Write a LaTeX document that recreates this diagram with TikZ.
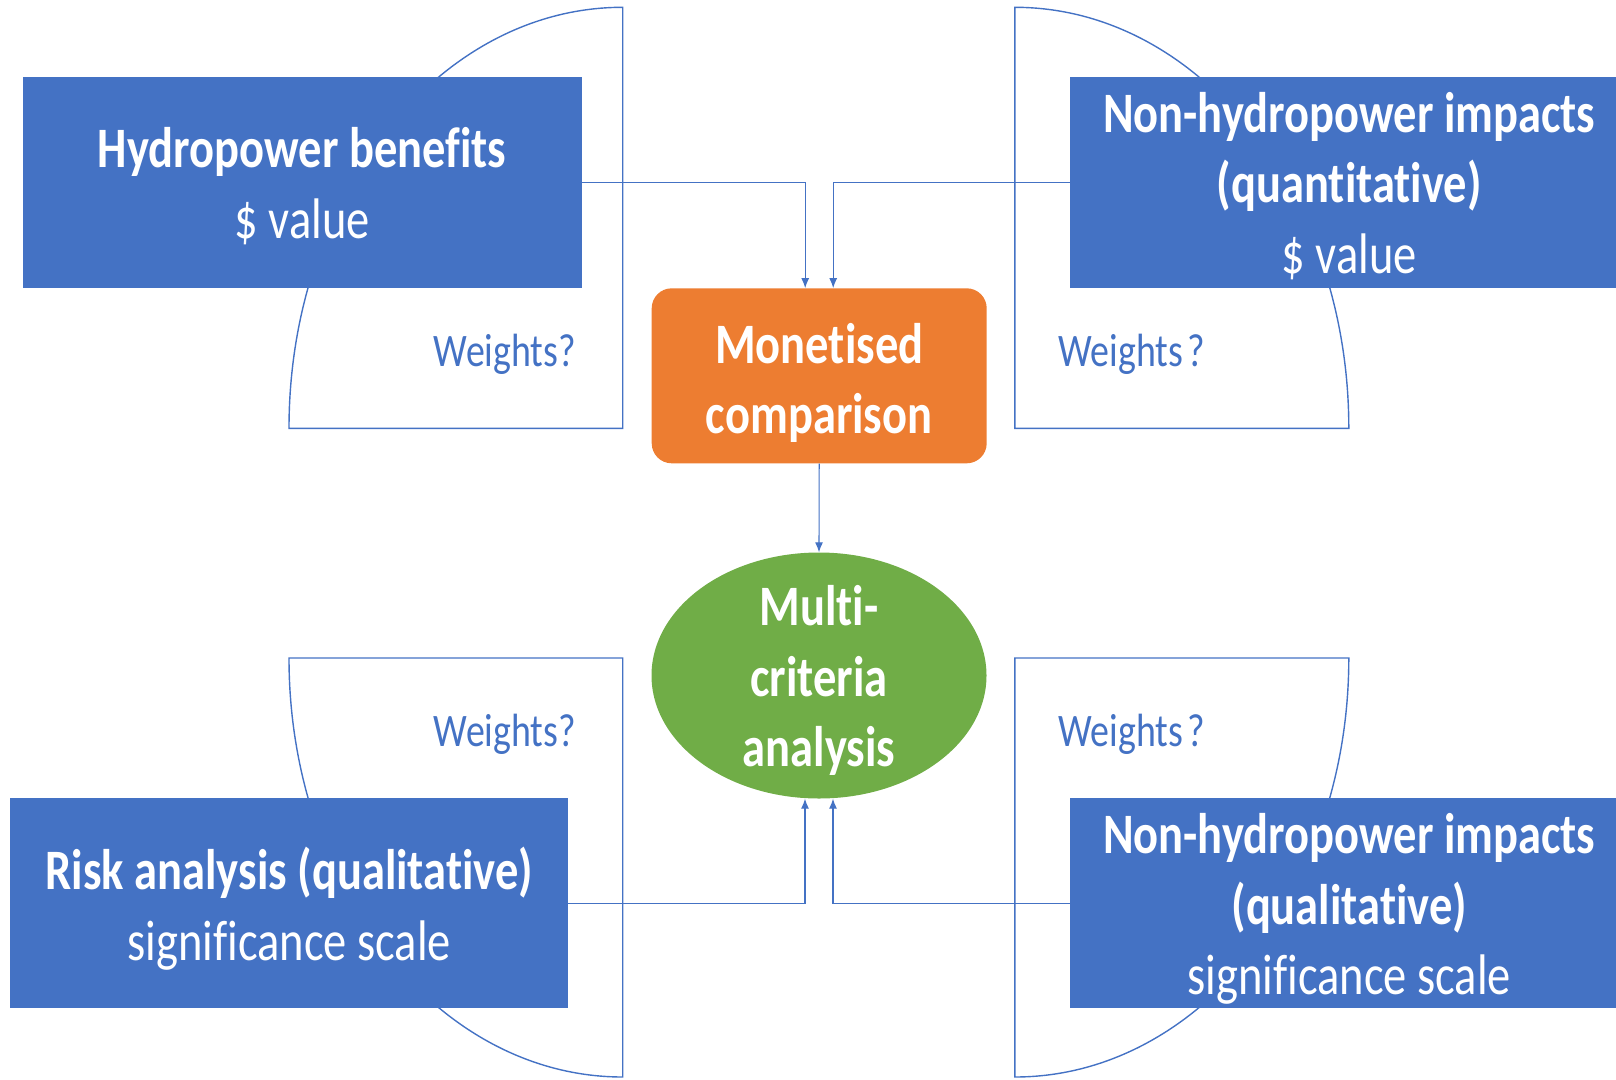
\documentclass[tikz,border=0pt]{standalone}
\usepackage{fontspec}
\setmainfont{Carlito}[FakeStretch=0.813, Ligatures=NoCommon]
\usetikzlibrary{arrows.meta,shapes.geometric}
\definecolor{boxblue}{HTML}{4472C4}
\definecolor{orng}{HTML}{ED7D31}
\definecolor{grn}{HTML}{70AD47}
\definecolor{linec}{HTML}{4472C4}
\begin{document}
\begin{tikzpicture}[x=1pt,y=-1pt,
  bluebox/.style={fill=boxblue, draw=none, inner sep=0pt},
  boxtext/.style={text=white, inner sep=0pt, align=center,
    font=\fontsize{57.2}{70.5}\selectfont},
  orangebox/.style={fill=orng, draw=none, rounded corners=20pt, inner sep=0pt,
    minimum width=335pt, minimum height=175pt},
  greenell/.style={ellipse, fill=grn, draw=none, inner sep=0pt,
    minimum width=335pt, minimum height=246pt},
  pie/.style={draw=linec, line width=1.4pt},
  conn/.style={draw=linec, line width=1.1pt, -{Latex[length=10pt,width=8pt]}},
  wlabel/.style={text=boxblue, anchor=base, inner sep=0pt, font=\fontsize{46.6}{56}\selectfont}
]
\path[use as bounding box, clip] (0,0) rectangle (1616,1079);

% quarter-ellipse "weight" sectors
\draw[pie] (622.7,428.3) -- (622.7,7.3) .. controls (438.4,7.3) and (289,195.8) .. (289,428.3) -- cycle;
\draw[pie] (1014.8,428.3) -- (1014.8,7.3) .. controls (1199.3,7.3) and (1348.8,195.8) .. (1348.8,428.3) -- cycle;
\draw[pie] (622.7,658) -- (289,658) .. controls (289,889.4) and (438.4,1077) .. (622.7,1077) -- cycle;
\draw[pie] (1014.8,658) -- (1348.8,658) .. controls (1348.8,889.4) and (1199.3,1077) .. (1014.8,1077) -- cycle;

% boxes
\node[bluebox, minimum width=558.9pt, minimum height=211.6pt] (hb) at (302.2,182.5) {};
\node[boxtext, yshift=-3.5pt] (hbt) at (hb) {\textbf{Hydropower benefits}\\\$ value};
\node[bluebox, minimum width=558.8pt, minimum height=211.6pt] (nq) at (1349.2,182.5) {};
\node[boxtext, yshift=-3.5pt] (nqt) at (nq) {\textbf{Non-hydropower impacts}\\\textbf{(quantitative)}\\\$ value};
\node[bluebox, minimum width=557.6pt, minimum height=210pt] (ra) at (289.2,903.3) {};
\node[boxtext, yshift=-5.5pt] (rat) at (ra) {\textbf{Risk analysis (qualitative)}\\significance scale};
\node[bluebox, minimum width=558.8pt, minimum height=210pt] (nl) at (1349.2,903.3) {};
\node[boxtext, yshift=-6pt] (nlt) at (nl) {\textbf{Non-hydropower impacts}\\\textbf{(qualitative)}\\significance scale};

\node[orangebox] (mc) at (819.2,375.8) {};
\node[boxtext, font=\bfseries\fontsize{57.2}{69.5}\selectfont, yshift=-7pt] (mct) at (mc) {Monetised\\comparison};
\node[greenell] (mca) at (819,675.5) {};
\node[boxtext, font=\bfseries\fontsize{57.2}{70.5}\selectfont, yshift=-5pt] (mcat) at (mca) {Multi-\\criteria\\analysis};

% weights labels
\node[wlabel] (w1) at (504.8,366.7) {Weights?};
\node[wlabel] (w2) at (1131.7,366.7) {Weights\kern4pt?};
\node[wlabel] (w3) at (504.8,746.7) {Weights?};
\node[wlabel] (w4) at (1131.7,746.7) {Weights\kern4pt?};

% connectors
\draw[conn] (hb.east) -| ([xshift=-14pt]mc.north);
\draw[conn] (nq.west) -| ([xshift=14pt]mc.north);
\draw[conn] (mc.south) -- (mca.north);
\draw[conn] (ra.east) -| ([xshift=-14pt]mca.south);
\draw[conn] (nl.west) -| ([xshift=14pt]mca.south);
\end{tikzpicture}
\end{document}
